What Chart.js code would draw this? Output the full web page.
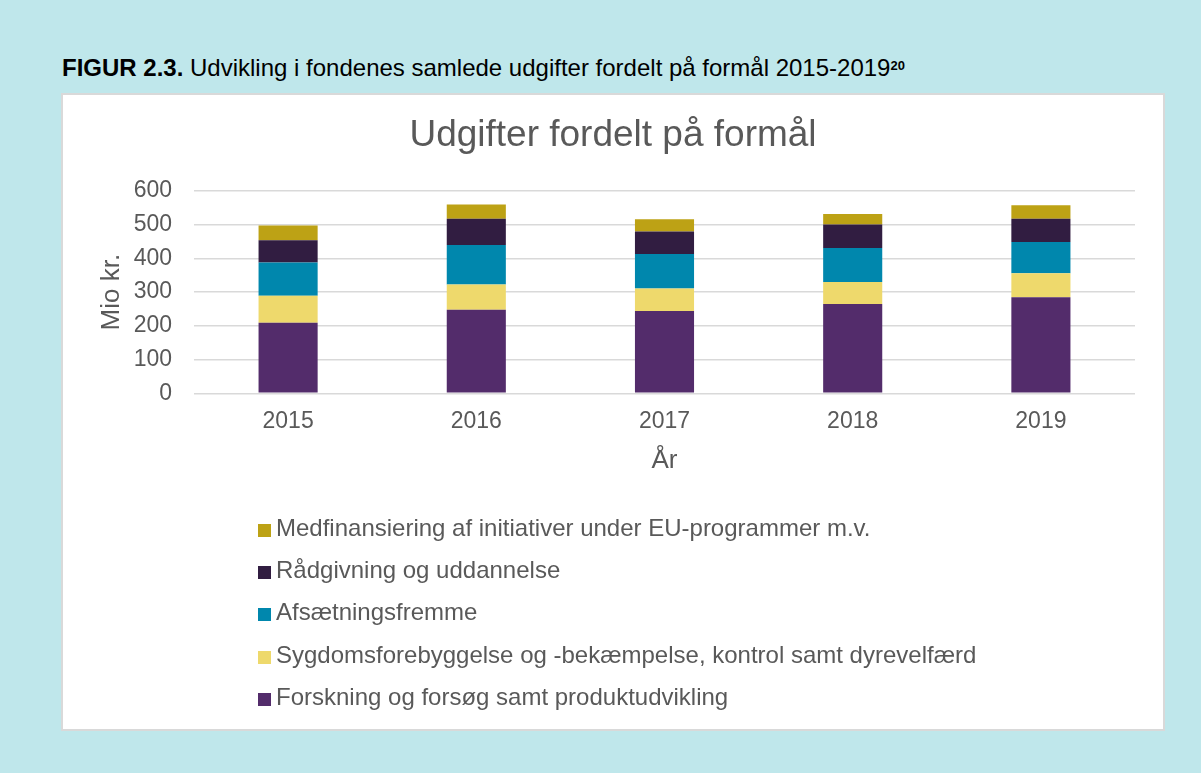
<!DOCTYPE html>
<html>
<head>
<meta charset="utf-8">
<script src="https://cdn.jsdelivr.net/npm/chart.js@4.4.1/dist/chart.umd.min.js"></script>
<style>
  html, body { margin: 0; padding: 0; }
  body { width: 1201px; height: 773px; background: #BFE7EB; position: relative; overflow: hidden;
         font-family: "Liberation Sans", Arial, sans-serif; }
  #caption { position: absolute; left: 62px; top: 54px; font-size: 24px; line-height: 28px; color: #000; white-space: nowrap; }
  #caption b { font-weight: bold; }
  #caption sup { font-size: 13px; font-weight: bold; vertical-align: 6px; line-height: 0; }
  #box { position: absolute; left: 61px; top: 93px; width: 1100px; height: 634px;
         border: 2px solid #D9D9D9; background: #fff; }
  #c { position: absolute; left: 0; top: 0; }
  #legend { position: absolute; left: 195px; top: 412px; }
  .li { position: relative; height: 42.2px; line-height: 42.2px; font-size: 24px; color: #595959; white-space: nowrap; }
  .sw { display: inline-block; width: 13px; height: 13px; margin-right: 5px; vertical-align: -1px; }
</style>
</head>
<body>
<div id="caption"><b>FIGUR 2.3.</b> Udvikling i fondenes samlede udgifter fordelt på formål 2015-2019<sup>20</sup></div>
<div id="box">
  <canvas id="c" width="1100" height="634"></canvas>
  <div id="legend"></div>
</div>
<script>
const years = ["2015", "2016", "2017", "2018", "2019"];
const seriesNames = [
  "Forskning og forsøg samt produktudvikling",
  "Sygdomsforebyggelse og -bekæmpelse, kontrol samt dyrevelfærd",
  "Afsætningsfremme",
  "Rådgivning og uddannelse",
  "Medfinansiering af initiativer under EU-programmer m.v."
];
const forskning   = [209, 248, 244, 265, 285];
const sygdom      = [80, 75, 67, 65, 71];
const afsaetning  = [99, 117, 102, 101, 93];
const raadgivning = [66, 78, 67, 70, 69];
const medfin      = [44, 42, 36, 31, 40];
const yTicks = [0, 100, 200, 300, 400, 500, 600];
const colors = ["#532C6B", "#EED96C", "#0087AD", "#311D41", "#BDA215"];

const seriesValues = [forskning, sygdom, afsaetning, raadgivning, medfin];
const textColor = "#595959";
const fontFamily = '"Liberation Sans", Arial, sans-serif';

const chart = new Chart(document.getElementById("c"), {
  type: "bar",
  data: {
    labels: years,
    datasets: seriesNames.map((n, i) => ({
      label: n,
      data: seriesValues[i],
      backgroundColor: colors[i],
      borderWidth: 0,
      categoryPercentage: 1,
      barPercentage: 0.314
    }))
  },
  options: {
    responsive: false,
    animation: false,
    devicePixelRatio: 1,
    layout: { padding: { left: 0, right: 0, top: 0, bottom: 245.7 } },
    plugins: {
      legend: { display: false },
      tooltip: { enabled: false },
      title: {
        display: true,
        text: "Udgifter fordelt på formål",
        color: textColor,
        font: { family: fontFamily, size: 37, weight: "normal" },
        padding: { top: 19, bottom: 32.6 }
      }
    },
    scales: {
      x: {
        stacked: true,
        grid: { display: false, drawTicks: false },
        border: { display: false },
        ticks: { color: textColor, font: { family: fontFamily, size: 23 }, padding: 15 },
        title: { display: true, text: "År", color: textColor,
                 font: { family: fontFamily, size: 26 }, padding: { top: 0, bottom: 6.7 } },
        afterFit: s => { s.height = 90; }
      },
      y: {
        stacked: true,
        min: 0, max: 600,
        afterBuildTicks: s => { s.ticks = yTicks.map(v => ({ value: v })); },
        grid: { color: "#D9D9D9", lineWidth: 1.5, drawTicks: false },
        border: { display: false },
        ticks: { color: textColor, font: { family: fontFamily, size: 23 }, padding: 22 },
        title: { display: true, text: "Mio kr.", color: textColor,
                 font: { family: fontFamily, size: 26 }, padding: { top: 33.4, bottom: 0 } },
        afterFit: s => { s.width = 131; }
      },
      spacer: {
        type: "linear",
        position: "right",
        grid: { display: false, drawTicks: false },
        border: { display: false },
        ticks: { display: false },
        afterFit: s => { s.width = 28; }
      }
    }
  }
});

const legendEl = document.getElementById("legend");
chart.data.datasets.slice().reverse().forEach(ds => {
  const row = document.createElement("div");
  row.className = "li";
  const sw = document.createElement("span");
  sw.className = "sw";
  sw.style.background = ds.backgroundColor;
  row.appendChild(sw);
  row.appendChild(document.createTextNode(ds.label));
  legendEl.appendChild(row);
});
</script>
</body>
</html>
